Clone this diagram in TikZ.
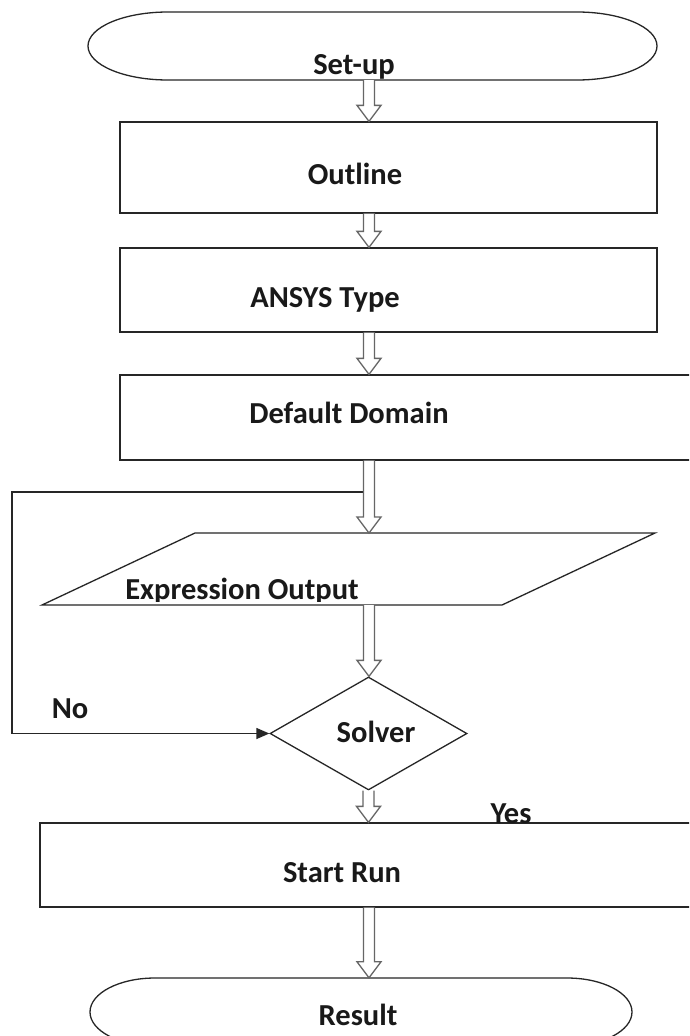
\documentclass[tikz,border=0pt]{standalone}
\usepackage{fontspec}
\setmainfont{Carlito}
\usetikzlibrary{arrows.meta,calc,shapes.geometric}
\tikzset{
  line/.style={draw=black!85, line width=1.3pt},
  shapebox/.style={line, rectangle, inner sep=0pt},
  hidden/.style={draw=none, rectangle, inner sep=0pt},
  txt/.style={anchor=base, inner sep=0pt, font=\fontsize{30.5}{36}\selectfont\bfseries, text=black!90},
  barrow/.style={draw=black!60, fill=white, line width=1.3pt, line join=miter},
  noarrow/.style={line, -{Triangle[length=13pt,width=11pt]}}
}
\newcommand\blockarrow[2]{%
  \draw[barrow] let \p1=(#1), \p2=(#2) in
    (\x1-5.5pt,\y1) -- (\x1-5.5pt,\y2+16pt) -- (\x1-12pt,\y2+16pt) -- (\x1,\y2)
    -- (\x1+12pt,\y2+16pt) -- (\x1+5.5pt,\y2+16pt) -- (\x1+5.5pt,\y1);}
\begin{document}
\begin{tikzpicture}[x=1pt,y=-1pt]
\useasboundingbox (0,0) rectangle (689,1036);
\clip (0,0) rectangle (689,1036);
\fill[white] (0,0) rectangle (689,1036);
\coordinate (axis) at (369,0);

% Set-up terminal
\node[hidden, minimum width=569pt, minimum height=68pt] (setup) at (372.5,46) {};
\draw[line] (168,12) -- (577,12) .. controls (621.2,12) and (657,27.2) .. (657,46)
  .. controls (657,64.8) and (621.2,80) .. (577,80) -- (168,80)
  .. controls (123.8,80) and (88,64.8) .. (88,46)
  .. controls (88,27.2) and (123.8,12) .. (168,12) -- cycle;
\begin{scope}
\clip (0,0) rectangle (689,79);
\node[txt] (setuptxt) at (354,74) {Set-up};
\end{scope}

% Boxes
\node[shapebox, minimum width=537pt, minimum height=91pt] (outline) at (388.5,167.5) {};
\node[txt] (outlinetxt) at (355,184) {Outline};
\node[shapebox, minimum width=537pt, minimum height=84pt] (ansys) at (388.5,290) {};
\node[txt] (ansystxt) at (325,307) {ANSYS Type};
\node[shapebox, minimum width=580pt, minimum height=85pt] (domain) at (410,417.5) {};
\node[txt] (domaintxt) at (349,423) {Default Domain};

% Parallelogram
\coordinate (ptop) at (369,533);
\coordinate (pbot) at (369,605);
\draw[line] (195,533) -- (655,533) -- (502,605) -- (42,605) -- cycle;
\begin{scope}
\clip (0,0) rectangle (689,601);
\node[txt] (exprtxt) at (242,599) {Expression Output};
\end{scope}

% Diamond
\node[line, diamond, inner sep=0pt, minimum width=197pt, minimum height=113pt] (solver) at (368.5,733.5) {};
\node[txt] (solvertxt) at (376,742) {Solver};

% Start Run
\node[shapebox, minimum width=660pt, minimum height=84pt] (start) at (370,865) {};
\node[txt] (starttxt) at (342,882) {Start Run};

% Result terminal
\node[hidden, minimum width=542pt, minimum height=68pt] (result) at (361,1012) {};
\draw[line] (155,978) -- (567,978) .. controls (602.9,978) and (632,993.2) .. (632,1012)
  .. controls (632,1030.8) and (602.9,1046) .. (567,1046) -- (155,1046)
  .. controls (119.1,1046) and (90,1030.8) .. (90,1012)
  .. controls (90,993.2) and (119.1,978) .. (155,978) -- cycle;
\node[txt] (resulttxt) at (358,1025) {Result};

% Labels
\node[txt] (notxt) at (70,718) {No};
\node[txt] (yestxt) at (511,823) {Yes};

% Feedback loop
\coordinate (fb) at (363,492);
\coordinate (fbl) at (12,492);
\draw[noarrow] (fb) -- (fbl) |- (solver.west);

% Block arrows
\blockarrow{setup.south -| axis}{outline.north -| axis}
\blockarrow{outline.south -| axis}{ansys.north -| axis}
\blockarrow{ansys.south -| axis}{domain.north -| axis}
\blockarrow{domain.south -| axis}{ptop}
\blockarrow{pbot}{solver.north}
\blockarrow{solver.south}{start.north -| axis}
\blockarrow{start.south -| axis}{result.north -| axis}
\end{tikzpicture}
\end{document}
